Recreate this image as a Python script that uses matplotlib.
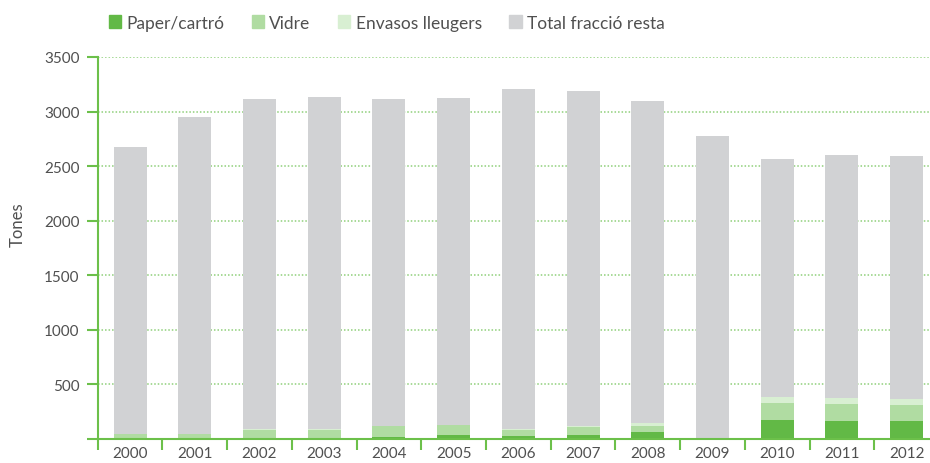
import matplotlib
matplotlib.use('Agg')
import matplotlib.pyplot as plt
from matplotlib.patches import Patch
from matplotlib.ticker import FixedLocator
import numpy as np

plt.rcParams['font.family'] = ['Lato', 'DejaVu Sans']

# Dades (tones)
years = ['2000', '2001', '2002', '2003', '2004', '2005', '2006',
         '2007', '2008', '2009', '2010', '2011', '2012']
paper = [0, 0, 12, 12, 21, 40, 30, 40, 67, 0, 177, 168, 168]
vidre = [46, 46, 68, 71, 95, 85, 55, 73, 55, 0, 156, 155, 146]
envasos = [0, 0, 6, 5, 6, 6, 9, 6, 25, 0, 55, 55, 55]
resta = [2629, 2904, 3029, 3046, 2993, 2994, 3113, 3070, 2950, 2776, 2177, 2224, 2224]

labels = ['Paper/cartró', 'Vidre', 'Envasos lleugers', 'Total fracció resta']
colors = ['#62b946', '#b0dca2', '#d8efd2', '#d1d2d4']
green = '#6cc04a'
text_col = '#505050'

fig = plt.figure(figsize=(9.3, 4.64), dpi=100)
ax = fig.add_axes([0.105, 0.052, 0.895, 0.823])

x = np.arange(len(years))
bottom = np.zeros(len(years))
for vals, col in zip([paper, vidre, envasos, resta], colors):
    ax.bar(x, vals, width=0.51, bottom=bottom, color=col, zorder=2)
    bottom += np.array(vals)

ax.set_ylim(0, 3500)
ax.set_xlim(-0.5, 12.36)

# graella
ax.set_yticks(np.arange(0, 3501, 500))
ax.set_yticklabels([''] + [str(v) for v in range(500, 3501, 500)])
for v in range(500, 3501, 500):
    ax.axhline(v, color='#8fd07a', lw=1.1, ls=(0, (1, 1.3)), zorder=1)

for s in ['top', 'right']:
    ax.spines[s].set_visible(False)
for s in ['left', 'bottom']:
    ax.spines[s].set_color(green)
    ax.spines[s].set_linewidth(1.5)

ax.tick_params(axis='y', colors=green, length=8, width=1.5, labelcolor=text_col,
               labelsize=11, pad=5)
ax.set_xticks(x)
ax.set_xticklabels(years)
ax.tick_params(axis='x', which='major', length=0, labelcolor=text_col, labelsize=11, pad=5)
ax.xaxis.set_minor_locator(FixedLocator(np.arange(-0.5, 13, 1)))
ax.tick_params(axis='x', which='minor', colors=green, length=8, width=1.5)

fig.text(0.019, 0.515, 'Tones', rotation=90, ha='center', va='center',
         color=text_col, fontsize=12)

handles = [Patch(color=c) for c in colors]
fig.legend(handles, labels, loc='upper left', bbox_to_anchor=(0.1, 1.0), ncol=4,
           frameon=False, handlelength=0.7, handleheight=0.7, handletextpad=0.3,
           columnspacing=1.6, fontsize=12.5, labelcolor=text_col)

fig.savefig('out.png', dpi=100)
